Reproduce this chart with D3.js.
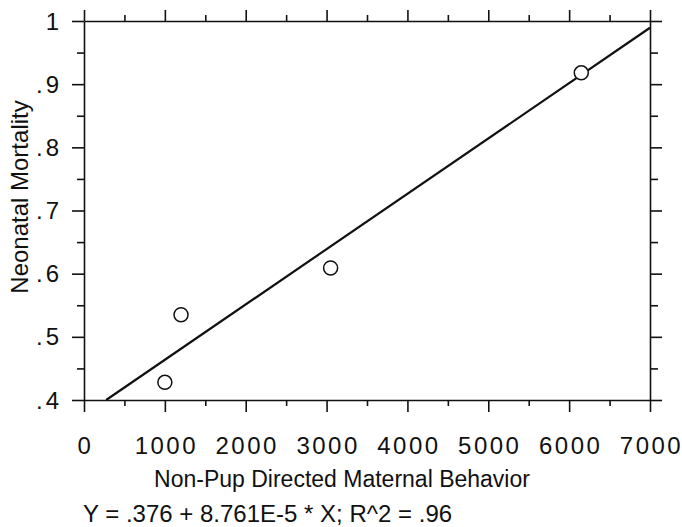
<!DOCTYPE html>
<html>
<head>
<meta charset="utf-8">
<script src="https://cdn.jsdelivr.net/npm/d3@7"></script>
<style>
  body { margin: 0; background: #fff; }
  text { font-family: "Liberation Sans", Arial, sans-serif; fill: #111; }
</style>
</head>
<body>
<div id="chart"></div>
<script>
// Data
const behavior = [1000, 1200, 3050, 6150];
const mortality = [0.428, 0.535, 0.609, 0.918];
const xTicks = [0, 1000, 2000, 3000, 4000, 5000, 6000, 7000];
const yTicks = [0.4, 0.5, 0.6, 0.7, 0.8, 0.9, 1.0];
const fitIntercept = 0.376;
const fitSlope = 8.761e-5;
const xTitle = "Non-Pup Directed Maternal Behavior";
const yTitle = "Neonatal Mortality";
const equation = "Y = .376 + 8.761E-5 * X; R^2 = .96";

const width = 682, height = 527;
const plotLeft = 84, plotRight = 650, plotTop = 21, plotBottom = 400;

const svg = d3.select("#chart").append("svg")
    .attr("width", width)
    .attr("height", height);

const x = d3.scaleLinear().domain([0, 7000]).range([plotLeft, plotRight]);
const y = d3.scaleLinear().domain([0.4, 1.0]).range([plotBottom, plotTop]);

const xMinor = d3.range(500, 7000, 1000);
const yMinor = d3.range(0.45, 1.0, 0.1);

// draw one side of the frame: major + minor ticks, pointing outward
function drawAxis(axisFn, scale, pos, majors, minors, majLen, minLen) {
    const g = svg.append("g").attr("transform", pos);
    g.call(axisFn(scale).tickValues(majors).tickSize(majLen).tickSizeOuter(0).tickFormat(""));
    g.append("g").call(axisFn(scale).tickValues(minors).tickSize(minLen).tickSizeOuter(0).tickFormat(""))
        .select(".domain").remove();
    g.selectAll("path, line").attr("stroke", "#111").attr("stroke-width", 1.6);
    return g;
}

drawAxis(d3.axisBottom, x, `translate(0,${plotBottom})`, xTicks, xMinor, 12, 6);
drawAxis(d3.axisTop, x, `translate(0,${plotTop})`, xTicks, xMinor, 11, 6);
drawAxis(d3.axisLeft, y, `translate(${plotLeft},0)`, yTicks, yMinor, 12, 7);
drawAxis(d3.axisRight, y, `translate(${plotRight},0)`, yTicks, yMinor, 12, 8);

// tick labels
const fmtY = v => v === 1 ? "1" : d3.format(".1f")(v).replace(/^0/, "");

svg.append("g").selectAll("text")
    .data(xTicks)
    .join("text")
    .attr("x", d => x(d) + 1.5)
    .attr("y", 454)
    .attr("text-anchor", "middle")
    .style("font-size", "24px")
    .style("letter-spacing", "2.5px")
    .text(d => d);

svg.append("g").selectAll("text")
    .data(yTicks)
    .join("text")
    .attr("x", 62)
    .attr("y", d => y(d) + 8.5)
    .attr("text-anchor", "end")
    .style("font-size", "24px")
    .style("letter-spacing", "3px")
    .text(fmtY);

// axis titles
svg.append("text")
    .attr("x", 342)
    .attr("y", 487)
    .attr("text-anchor", "middle")
    .style("font-size", "23px")
    .text(xTitle);

svg.append("text")
    .attr("transform", "translate(28,197) rotate(-90)")
    .attr("text-anchor", "middle")
    .style("font-size", "24px")
    .text(yTitle);

svg.append("text")
    .attr("x", 83)
    .attr("y", 522)
    .style("font-size", "24px")
    .text(equation);

// regression line, clipped to the plot range
const xStart = (0.4 - fitIntercept) / fitSlope;
svg.append("line")
    .attr("x1", x(xStart))
    .attr("y1", y(fitIntercept + fitSlope * xStart))
    .attr("x2", x(7000))
    .attr("y2", y(fitIntercept + fitSlope * 7000))
    .attr("stroke", "#111")
    .attr("stroke-width", 2.2);

// observed points
svg.append("g").selectAll("circle")
    .data(behavior.map((b, i) => [b, mortality[i]]))
    .join("circle")
    .attr("cx", d => x(d[0]))
    .attr("cy", d => y(d[1]))
    .attr("r", 7)
    .attr("fill", "#fff")
    .attr("stroke", "#111")
    .attr("stroke-width", 1.5);
</script>
</body>
</html>
